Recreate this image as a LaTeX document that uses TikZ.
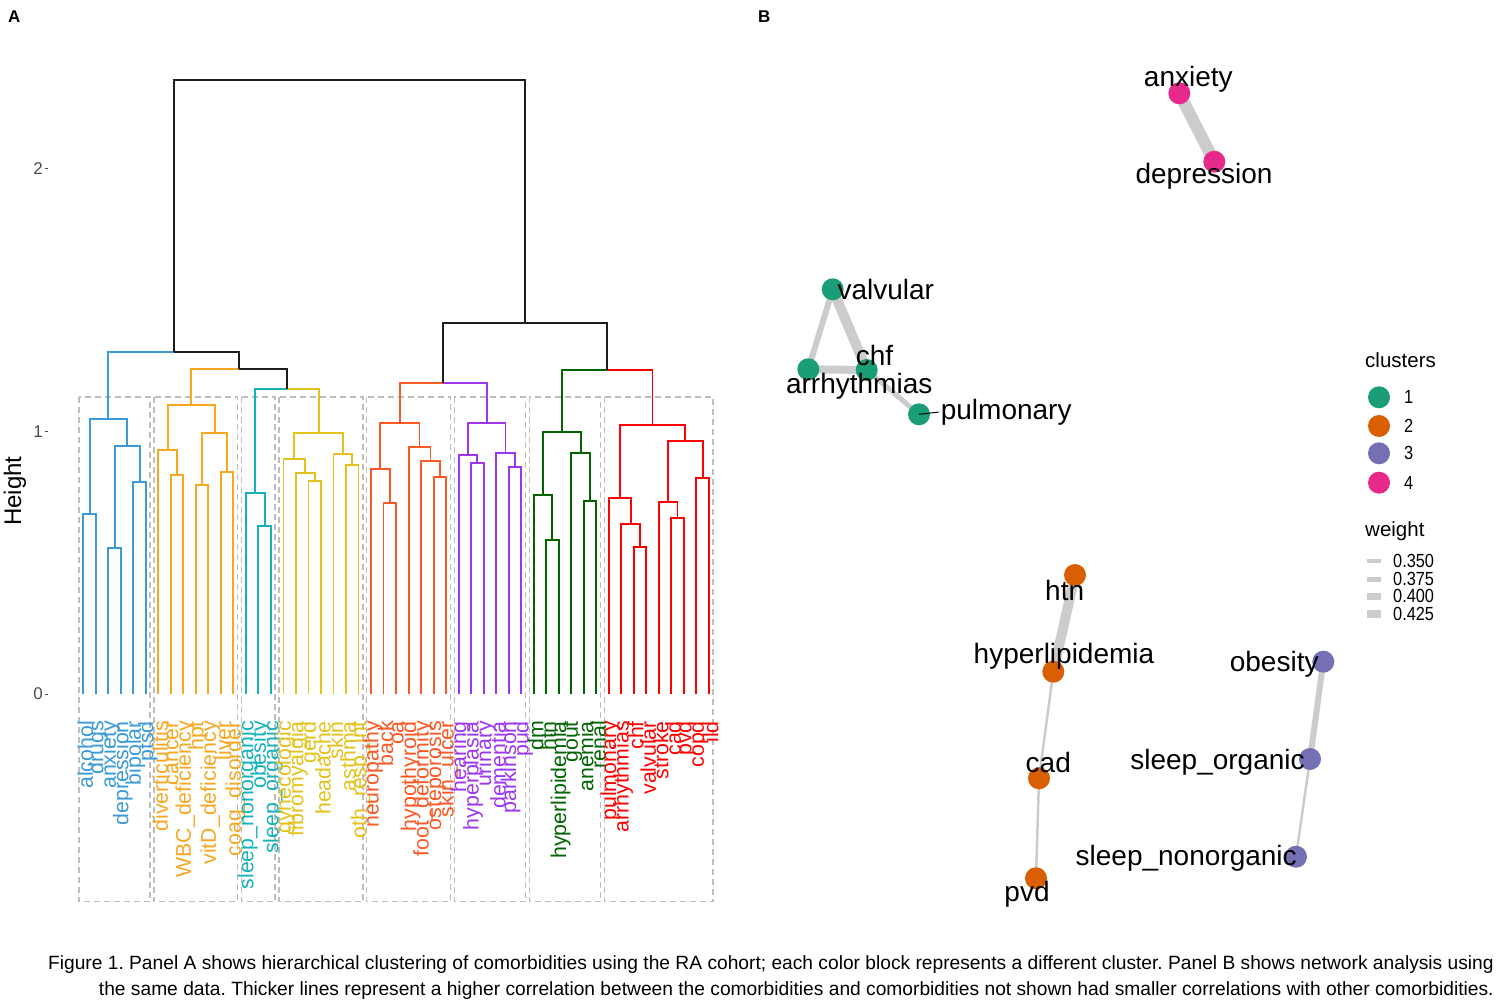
\documentclass[tikz,border=0pt]{standalone}
\usepackage{fontspec}
\setmainfont{Liberation Sans}
\usetikzlibrary{calc}
\frenchspacing
\definecolor{cBlue}{RGB}{58,155,214}
\definecolor{cOrange}{RGB}{246,168,32}
\definecolor{cTeal}{RGB}{22,178,186}
\definecolor{cYellow}{RGB}{228,194,28}
\definecolor{cOrRed}{RGB}{250,88,36}
\definecolor{cPurple}{RGB}{158,54,240}
\definecolor{cGreen}{RGB}{0,100,0}
\definecolor{cRed}{RGB}{255,0,0}
\definecolor{cBlack}{RGB}{30,30,30}
\definecolor{nTeal}{HTML}{1B9E77}
\definecolor{nOrange}{HTML}{D95F02}
\definecolor{nPurple}{HTML}{7570B3}
\definecolor{nPink}{HTML}{E7298A}
\definecolor{edgegray}{RGB}{204,204,204}
\definecolor{boxgray}{RGB}{190,190,190}
\definecolor{tickgray}{RGB}{77,77,77}
\newcommand{\dmerge}[6]{%
  \coordinate (tmp#1) at ($(#2)!0.5!(#3)$);
  \coordinate (#1) at (tmp#1 |- 0,#4);
  \draw[dend,#5] (#2) |- (#1);
  \draw[dend,#6] (#1) -| (#3);
}
\tikzset{
  dend/.style={line width=1.9pt},
  boxst/.style={draw=boxgray, line width=1.5pt, dash pattern=on 6pt off 4pt},
  leaflab/.style={rotate=90, anchor=east, inner sep=0pt, font=\fontsize{21.3}{21.3}\selectfont},
  netlab/.style={anchor=base, inner sep=0pt, font=\fontsize{28}{28}\selectfont, text=black},
  netedge/.style={draw=edgegray, line cap=butt},
  dot/.style={circle, inner sep=0pt, minimum size=22pt},
  ticklab/.style={anchor=east, inner sep=0pt, text=tickgray, font=\fontsize{17}{17}\selectfont},
  legtitle/.style={anchor=base west, inner sep=0pt, font=\fontsize{20.5}{20.5}\selectfont},
  leglab/.style={anchor=west, inner sep=0pt, xscale=0.86, font=\fontsize{19}{19}\selectfont},
  caption/.style={anchor=base east, inner sep=0pt, font=\fontsize{19.2}{19.2}\selectfont},
  panel/.style={anchor=base west, inner sep=0pt, font=\bfseries\fontsize{17}{17}\selectfont}
}
\begin{document}
\begin{tikzpicture}[x=1pt,y=-1pt]
\useasboundingbox[fill=white] (0,0) rectangle (1500,1000);
% panel letters
\node[panel] (pA) at (8,23) {A};
\node[panel] (pB) at (758,23) {B};
% axis
\node[rotate=90, inner sep=0pt, font=\fontsize{24}{24}\selectfont] (ylab) at (15,491) {Height};
\foreach \v/\yy in {0/694,1/431.5,2/169} {
  \node[ticklab] (tick\v) at (43,\yy) {\v};
  \draw[tickgray, line width=1pt] (44.5,\yy) -- (48,\yy);
}
% cluster boxes
\draw[boxst] (79.0,397) rectangle (150.2,901.7);
\draw[boxst] (154.1,397) rectangle (237.7,901.7);
\draw[boxst] (241.6,397) rectangle (275.2,901.7);
\draw[boxst] (279.2,397) rectangle (362.8,901.7);
\draw[boxst] (366.7,397) rectangle (450.4,901.7);
\draw[boxst] (454.3,397) rectangle (525.5,901.7);
\draw[boxst] (529.4,397) rectangle (600.5,901.7);
\draw[boxst] (604.4,397) rectangle (713.1,901.7);
% leaves
\foreach \i in {0,...,50} { \coordinate (l\i) at ({83.3+12.51*\i},694); }
% blue
\dmerge{b1}{l0}{l1}{514.3}{cBlue}{cBlue}
\dmerge{b2}{l2}{l3}{548.3}{cBlue}{cBlue}
\dmerge{b3}{l4}{l5}{482}{cBlue}{cBlue}
\dmerge{b4}{b2}{b3}{445.7}{cBlue}{cBlue}
\dmerge{B}{b1}{b4}{419.3}{cBlue}{cBlue}
% orange
\dmerge{o1}{l7}{l8}{475}{cOrange}{cOrange}
\dmerge{o2}{l6}{o1}{449.7}{cOrange}{cOrange}
\dmerge{o3}{l9}{l10}{485}{cOrange}{cOrange}
\dmerge{o4}{l11}{l12}{471.7}{cOrange}{cOrange}
\dmerge{o5}{o3}{o4}{433.3}{cOrange}{cOrange}
\dmerge{O}{o2}{o5}{405}{cOrange}{cOrange}
% teal
\dmerge{t1}{l14}{l15}{525.7}{cTeal}{cTeal}
\dmerge{T}{l13}{t1}{493.3}{cTeal}{cTeal}
% yellow
\dmerge{y1}{l18}{l19}{480.7}{cYellow}{cYellow}
\dmerge{y2}{l17}{y1}{473}{cYellow}{cYellow}
\dmerge{y3}{l16}{y2}{458.7}{cYellow}{cYellow}
\dmerge{y4}{l21}{l22}{465}{cYellow}{cYellow}
\dmerge{y5}{l20}{y4}{454}{cYellow}{cYellow}
\dmerge{Y}{y3}{y5}{432.7}{cYellow}{cYellow}
% upper left
\dmerge{TY}{T}{Y}{389.3}{cTeal}{cYellow}
\dmerge{OTY}{O}{TY}{369}{cOrange}{cBlack}
\dmerge{LEFT}{B}{OTY}{352.3}{cBlue}{cBlack}
% orangered
\dmerge{r1}{l24}{l25}{503.3}{cOrRed}{cOrRed}
\dmerge{r2}{l23}{r1}{469.3}{cOrRed}{cOrRed}
\dmerge{r3}{l28}{l29}{477}{cOrRed}{cOrRed}
\dmerge{r4}{l27}{r3}{461}{cOrRed}{cOrRed}
\dmerge{r5}{l26}{r4}{446.7}{cOrRed}{cOrRed}
\dmerge{R}{r2}{r5}{423}{cOrRed}{cOrRed}
% purple
\dmerge{p1}{l31}{l32}{462.7}{cPurple}{cPurple}
\dmerge{p2}{l30}{p1}{454.7}{cPurple}{cPurple}
\dmerge{p3}{l34}{l35}{466.7}{cPurple}{cPurple}
\dmerge{p4}{l33}{p3}{453}{cPurple}{cPurple}
\dmerge{P}{p2}{p4}{422.7}{cPurple}{cPurple}
\dmerge{RP}{R}{P}{382.7}{cOrRed}{cPurple}
% green
\dmerge{g1}{l37}{l38}{540}{cGreen}{cGreen}
\dmerge{g2}{l36}{g1}{495}{cGreen}{cGreen}
\dmerge{g3}{l40}{l41}{501.3}{cGreen}{cGreen}
\dmerge{g4}{l39}{g3}{453}{cGreen}{cGreen}
\dmerge{G}{g2}{g4}{432}{cGreen}{cGreen}
% red
\dmerge{d1}{l44}{l45}{547.3}{cRed}{cRed}
\dmerge{d2}{l43}{d1}{523.7}{cRed}{cRed}
\dmerge{d3}{l42}{d2}{497.7}{cRed}{cRed}
\dmerge{d4}{l47}{l48}{517.7}{cRed}{cRed}
\dmerge{d5}{l46}{d4}{502}{cRed}{cRed}
\dmerge{d6}{l49}{l50}{478}{cRed}{cRed}
\dmerge{d7}{d5}{d6}{440.7}{cRed}{cRed}
\dmerge{D}{d3}{d7}{425}{cRed}{cRed}
\dmerge{GD}{G}{D}{369.7}{cGreen}{cRed}
\dmerge{RIGHT}{RP}{GD}{323}{cBlack}{cBlack}
\dmerge{ROOT}{LEFT}{RIGHT}{80}{cBlack}{cBlack}
% leaf labels
\foreach \t/\c [count=\i from 0] in {alcohol/cBlue,drugs/cBlue,anxiety/cBlue,depression/cBlue,bipolar/cBlue,ptsd/cBlue,
  diverticulitis/cOrange,cancer/cOrange,WBC\_deficiency/cOrange,hpt/cOrange,vitD\_deficiency/cOrange,liver/cOrange,coag\_disorder/cOrange,
  sleep\_nonorganic/cTeal,obesity/cTeal,sleep\_organic/cTeal,
  gynecologic/cYellow,fibromyalgia/cYellow,gerd/cYellow,headache/cYellow,skin/cYellow,asthma/cYellow,oth\_resp\_int/cYellow,
  neuropathy/cOrRed,back/cOrRed,oa/cOrRed,hypothyroid/cOrRed,foot\_deformity/cOrRed,osteporosis/cOrRed,skin\_ulcer/cOrRed,
  hearing/cPurple,hyperplasia/cPurple,urinary/cPurple,dementia/cPurple,parkinson/cPurple,pud/cPurple,
  dm/cGreen,htn/cGreen,hyperlipidemia/cGreen,gout/cGreen,anemia/cGreen,renal/cGreen,
  pulmonary/cRed,arrhythmias/cRed,chf/cRed,valvular/cRed,stroke/cRed,cad/cRed,pvd/cRed,copd/cRed,ild/cRed} {
  \node[leaflab, text=\c] (lab\i) at ($(l\i)+(2,27)$) {\t};
}
% ---------------- network ----------------
\coordinate (anxiety) at (1179.3,93.3);
\coordinate (depression) at (1214.3,161.7);
\coordinate (valvular) at (832.7,289.3);
\coordinate (chf) at (866.7,370);
\coordinate (arrhythmias) at (808.3,369.3);
\coordinate (pulmonary) at (919,414.3);
\coordinate (htn) at (1075,575);
\coordinate (hyperlipidemia) at (1053.3,671.7);
\coordinate (cad) at (1039,778.3);
\coordinate (pvd) at (1036,878.3);
\coordinate (obesity) at (1323.3,661.7);
\coordinate (sleeporg) at (1310,759);
\coordinate (sleepnon) at (1296,856.7);
\draw[netedge, line width=12pt] (anxiety) -- (depression);
\draw[netedge, line width=10pt] (valvular) -- (chf);
\draw[netedge, line width=8pt] (arrhythmias) -- (chf);
\draw[netedge, line width=6pt] (valvular) -- (arrhythmias);
\draw[netedge, line width=5pt] (chf) -- (pulmonary);
\draw[netedge, line width=10pt] (htn) -- (hyperlipidemia);
\draw[netedge, line width=2.5pt] (hyperlipidemia) -- (cad);
\draw[netedge, line width=2.5pt] (cad) -- (pvd);
\draw[netedge, line width=6pt] (obesity) -- (sleeporg);
\draw[netedge, line width=2.5pt] (sleeporg) -- (sleepnon);
\foreach \n/\c in {anxiety/nPink,depression/nPink,valvular/nTeal,chf/nTeal,arrhythmias/nTeal,pulmonary/nTeal,
  htn/nOrange,hyperlipidemia/nOrange,cad/nOrange,pvd/nOrange,obesity/nPurple,sleeporg/nPurple,sleepnon/nPurple} {
  \node[dot, fill=\c] (\n N) at (\n) {};
}
\node[netlab] (anxietyL) at (1188.3,86.7) {anxiety};
\node[netlab] (depressionL) at (1204,184) {depression};
\node[netlab] (valvularL) at (885.8,300) {valvular};
\node[netlab] (chfL) at (874.5,366) {chf};
\node[netlab] (arrhythmiasL) at (859.2,393.3) {arrhythmias};
\node[netlab] (pulmonaryL) at (1006.2,419.3) {pulmonary};
\draw[black, line width=1pt] (pulmonary) -- ($(pulmonaryL.west)+(-2,0)$);
\node[netlab] (htnL) at (1064.7,600.7) {htn};
\node[netlab] (hyperlipidemiaL) at (1064,663.3) {hyperlipidemia};
\node[netlab] (cadL) at (1048.3,772.7) {cad};
\node[netlab] (pvdL) at (1027,901.7) {pvd};
\node[netlab] (obesityL) at (1274.2,671.7) {obesity};
\node[netlab] (sleeporgL) at (1217.5,769.3) {sleep\_organic};
\node[netlab] (sleepnonL) at (1186.2,865.7) {sleep\_nonorganic};
% legend
\node[legtitle] (clT) at (1365,368) {clusters};
\foreach \k/\c/\yy in {1/nTeal/397.3,2/nOrange/426,3/nPurple/453.3,4/nPink/482.7} {
  \node[dot, fill=\c] (key\k) at (1379,\yy) {};
  \node[leglab] (keyL\k) at (1404,\yy) {\k};
}
\node[legtitle] (wT) at (1365,536.7) {weight};
\foreach \w/\lw/\yy [count=\j] in {0.350/3.5/561,0.375/5/579,0.400/6.5/596.3,0.425/8.5/614} {
  \coordinate (wa\j) at (1366.5,\yy);
  \coordinate (wb\j) at (1380.5,\yy);
  \draw[edgegray, line width=\lw pt] (wa\j) -- (wb\j);
  \node[leglab] (wL\j) at (1393,\yy) {\w};
}
% caption
\node[caption] (cap1) at (1494,969) {Figure 1. Panel A shows hierarchical clustering of comorbidities using the RA cohort; each color block represents a different cluster. Panel B shows network analysis using};
\node[caption] (cap2) at (1494,995) {the same data. Thicker lines represent a higher correlation between the comorbidities and comorbidities not shown had smaller correlations with other comorbidities.};
\end{tikzpicture}
\end{document}
